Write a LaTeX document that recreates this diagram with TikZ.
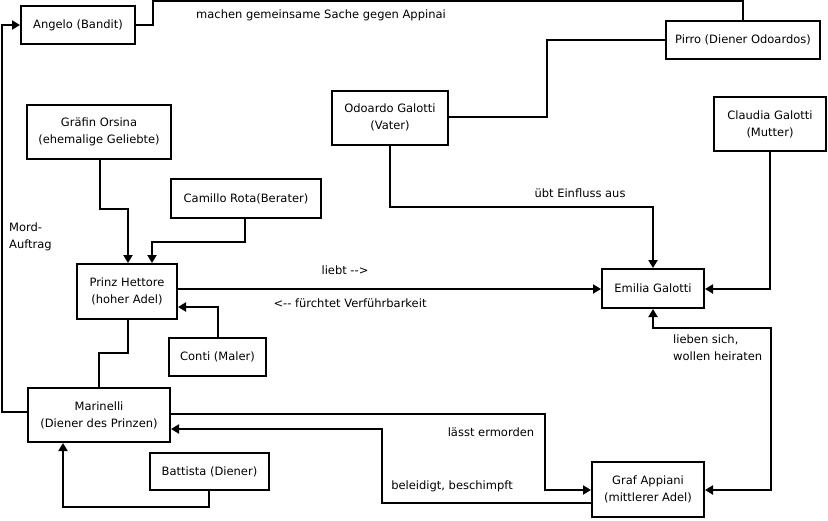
\documentclass[tikz,border=0pt]{standalone}
\usepackage{fontspec}
\setmainfont{DejaVu Sans}
\usetikzlibrary{arrows.meta}
\begin{document}
\begin{tikzpicture}[x=1pt,y=-1pt,
  every node/.style={font=\fontsize{11.5}{17}\selectfont},
  box/.style={draw,line width=2pt,rectangle,align=center,inner sep=0pt},
  lab/.style={inner sep=0pt,align=center},
  conn/.style={line width=2pt},
  arr/.style={line width=2pt,-{Triangle[length=8pt,width=9pt]}},
  darr/.style={line width=2pt,{Triangle[length=8pt,width=9pt]}-{Triangle[length=8pt,width=9pt]}}]
\useasboundingbox (0,0) rectangle (828,520);
% boxes
\node[box,minimum width=114pt,minimum height=38pt] (angelo) at (78,25) {Angelo (Bandit)};
\node[box,minimum width=154pt,minimum height=38pt] (pirro) at (743,40) {Pirro (Diener Odoardos)};
\node[box,minimum width=116pt,minimum height=54pt] (odoardo) at (390,117.5) {Odoardo Galotti\\(Vater)};
\node[box,minimum width=112pt,minimum height=54pt] (claudia) at (770,124) {Claudia Galotti\\(Mutter)};
\node[box,minimum width=144pt,minimum height=54pt] (orsina) at (99,132) {Gräfin Orsina\\(ehemalige Geliebte)};
\node[box,minimum width=150pt,minimum height=39pt] (camillo) at (246,198.5) {Camillo Rota(Berater)};
\node[box,minimum width=100pt,minimum height=55pt] (prinz) at (127,291.5) {Prinz Hettore\\(hoher Adel)};
\node[box,minimum width=102pt,minimum height=39pt] (emilia) at (653,288.5) {Emilia Galotti};
\node[box,minimum width=97pt,minimum height=38pt] (conti) at (217.5,357) {Conti (Maler)};
\node[box,minimum width=142pt,minimum height=54pt] (marinelli) at (99,415) {Marinelli\\(Diener des Prinzen)};
\node[box,minimum width=119pt,minimum height=37pt] (battista) at (209.5,471.5) {Battista (Diener)};
\node[box,minimum width=112pt,minimum height=55pt] (appiani) at (648,489.5) {Graf Appiani\\(mittlerer Adel)};
% labels
\node[lab] (l1) at (321,15) {machen gemeinsame Sache gegen Appinai};
\node[lab] (l2) at (580,193) {übt Einfluss aus};
\node[lab] (l3) at (345,270) {liebt -{}->};
\node[lab] (l4) at (350,303) {<-{}- fürchtet Verführbarkeit};
\node[lab,anchor=west,align=left] (l5) at (673,348) {lieben sich,\\wollen heiraten};
\node[lab] (l6) at (491,432) {lässt ermorden};
\node[lab] (l7) at (452,486) {beleidigt, beschimpft};
\node[lab,anchor=west,align=left] (l8) at (9,237) {Mord-\\Auftrag};
% connectors
\draw[conn] (angelo.east) -- (153,25) -- (153,1) -- (743,1) -- (pirro.north);
\draw[conn] (odoardo.east |- 0,117) -- (547,117) -- (547,40) -- (pirro.west);
\draw[arr] (claudia.south) -- (770,289) -- (emilia.east |- 0,289);
\draw[arr] (odoardo.south) -- (390,207) -- (653,207) -- (emilia.north);
\draw[darr] (emilia.south) -- (653,328) -- (771,328) -- (771,490) -- (appiani.east |- 0,490);
\draw[arr] (orsina.south -| 100,0) -- (100,209) -- (128,209) -- (prinz.north -| 128,0);
\draw[arr] (camillo.south -| 245,0) -- (245,242) -- (152,242) -- (prinz.north -| 152,0);
\draw[arr] (conti.north) -- (217.5,307) -- (prinz.east |- 0,307);
\draw[arr] (prinz.east |- 0,289) -- (emilia.west |- 0,289);
\draw[conn] (prinz.south -| 128,0) -- (128,353) -- (99,353) -- (marinelli.north);
\draw[arr] (marinelli.west |- 0,412) -- (2,412) -- (2,25) -- (angelo.west);
\draw[arr] (marinelli.east |- 0,414) -- (545,414) -- (545,490) -- (appiani.west |- 0,490);
\draw[arr] (appiani.west |- 0,503) -- (382,503) -- (382,429) -- (marinelli.east |- 0,429);
\draw[arr] (battista.south -| 209,0) -- (209,507) -- (63,507) -- (marinelli.south -| 63,0);
\end{tikzpicture}
\end{document}
